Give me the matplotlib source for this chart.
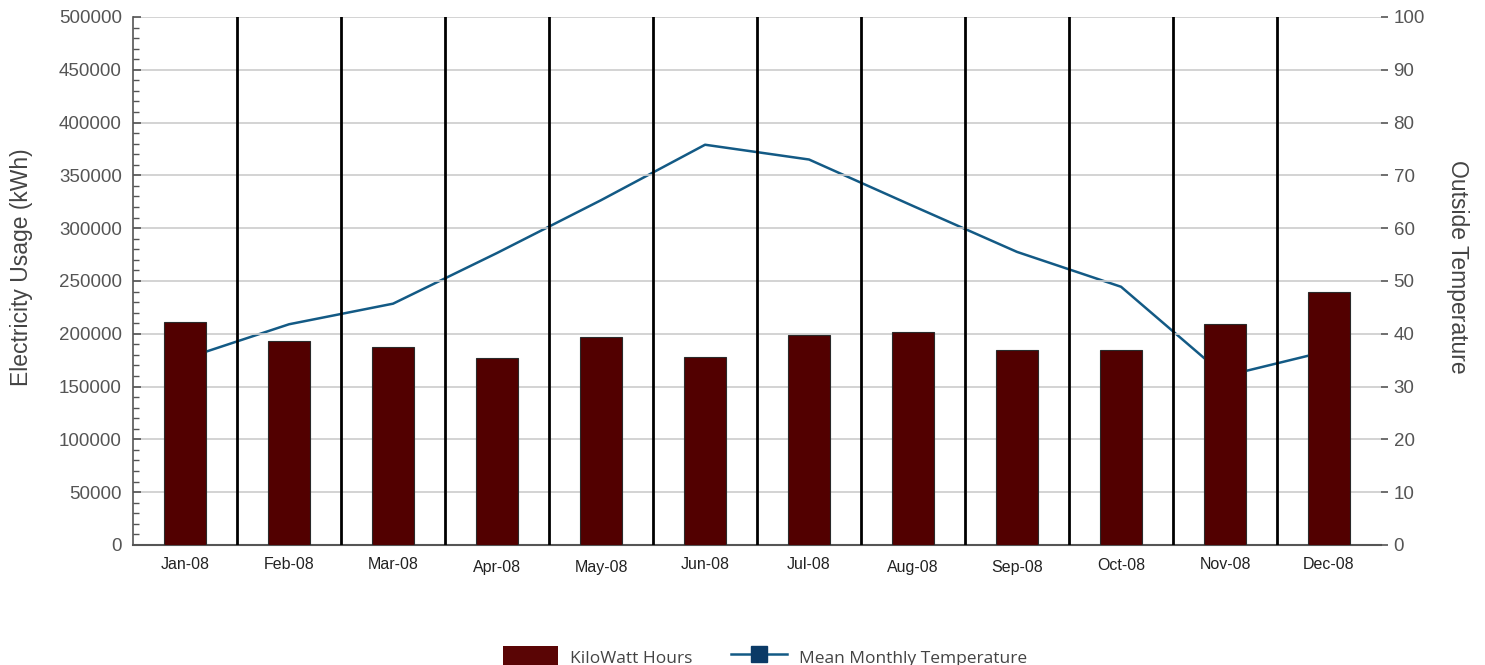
import matplotlib
matplotlib.use("Agg")
import matplotlib.pyplot as plt
import matplotlib.transforms as mtransforms
from matplotlib.ticker import MultipleLocator
from matplotlib.patches import Patch
from matplotlib.lines import Line2D
import numpy as np

months = ['Jan-08', 'Feb-08', 'Mar-08', 'Apr-08', 'May-08', 'Jun-08',
          'Jul-08', 'Aug-08', 'Sep-08', 'Oct-08', 'Nov-08', 'Dec-08']
kwh = [211000, 193000, 187500, 177000, 197000, 178000,
       199000, 202000, 184500, 184500, 209000, 240000]
temperature = [35.3, 41.8, 45.7, 55.3, 65.3, 75.8,
               73.0, 64.2, 55.5, 48.9, 32.0, 36.8]

bar_color = '#520000'
line_color = '#135a85'
marker_color = '#0b3a66'

fig = plt.figure(figsize=(14.85, 6.65), dpi=100)
ax = fig.add_axes([0.0896, 0.1805, 0.8404, 0.794])
ax2 = ax.twinx()

x = np.arange(len(months))

# line sits behind the bars, so put the bar axes on top
ax2.plot(x, temperature, color=line_color, linewidth=1.8)
ax.set_zorder(ax2.get_zorder() + 1)
ax.patch.set_visible(False)

ax.bar(x, kwh, width=0.41, color=bar_color, edgecolor='#2a2a2a', linewidth=0.8, zorder=3)
for sep in x[:-1] + 0.5:
    ax.axvline(sep, color='black', linewidth=2, zorder=4)

ax.set_xlim(-0.5, len(months) - 0.5)
ax.set_ylim(0, 500000)
ax.yaxis.set_major_locator(MultipleLocator(50000))
ax.yaxis.set_minor_locator(MultipleLocator(10000))
ax.grid(axis='y', color='#cccccc', linewidth=1.2, zorder=0)
ax.set_axisbelow(True)

ax2.set_ylim(0, 100)
ax2.yaxis.set_major_locator(MultipleLocator(10))

for a in (ax, ax2):
    a.spines['top'].set_visible(False)
    a.spines['right'].set_visible(False)
ax2.spines['left'].set_visible(False)
ax2.spines['bottom'].set_visible(False)
ax.spines['left'].set_color('#555555')
ax.spines['bottom'].set_color('#555555')
ax.spines['left'].set_linewidth(1.2)
ax.spines['bottom'].set_linewidth(1.5)

ax.set_xticks(x)
ax.set_xticklabels(months, fontsize=11.5, color='#222222', family='Liberation Sans')
ax.tick_params(axis='x', length=0, pad=9)
ax.tick_params(axis='y', which='major', direction='in', length=6, width=1.2,
               color='#555555', labelsize=13.5, labelcolor='#555555', pad=8)
ax.tick_params(axis='y', which='minor', direction='in', length=4, width=1,
               color='#555555')
for lbl in ax.get_yticklabels():
    lbl.set_family('Liberation Sans')

ax2.tick_params(axis='y', direction='out', length=5, width=1.2, color='#555555',
                labelsize=13.5, labelcolor='#555555', pad=4)
for lbl in ax2.get_yticklabels():
    lbl.set_family('Liberation Sans')

# month labels sit at slightly uneven heights in the original
shifts = [0, 0, 0, 3, 3, 0, 0, 3, 3, 1, 0, 0]
for lbl, dy in zip(ax.get_xticklabels(), shifts):
    lbl.set_transform(lbl.get_transform() +
                      mtransforms.ScaledTranslation(0, -dy / 100, fig.dpi_scale_trans))

ax.set_ylabel('Electricity Usage (kWh)', fontsize=16.5, color='#444444',
              family='Liberation Sans', va='center')
ax.yaxis.set_label_coords(-0.089, 0.527)
ax2.set_ylabel('Outside Temperature', fontsize=16.5, color='#444444',
               family='Liberation Sans', rotation=270, va='center')
ax2.yaxis.set_label_coords(1.061, 0.527)

handles = [Patch(facecolor='#5a0505', edgecolor='none', label='KiloWatt Hours'),
           Line2D([0], [0], color=line_color, linewidth=1.8, marker='s', markersize=11,
                  markerfacecolor=marker_color, markeredgecolor=marker_color,
                  label='Mean Monthly Temperature')]
leg = fig.legend(handles=handles, loc='lower center', bbox_to_anchor=(0.515, -0.028),
                 ncol=2, frameon=False, handlelength=3.2, handleheight=1.6,
                 columnspacing=2.2, handletextpad=0.7,
                 prop={'family': 'Open Sans', 'size': 12.5})
for t in leg.get_texts():
    t.set_color('#444444')

fig.savefig('out.png', dpi=100)
